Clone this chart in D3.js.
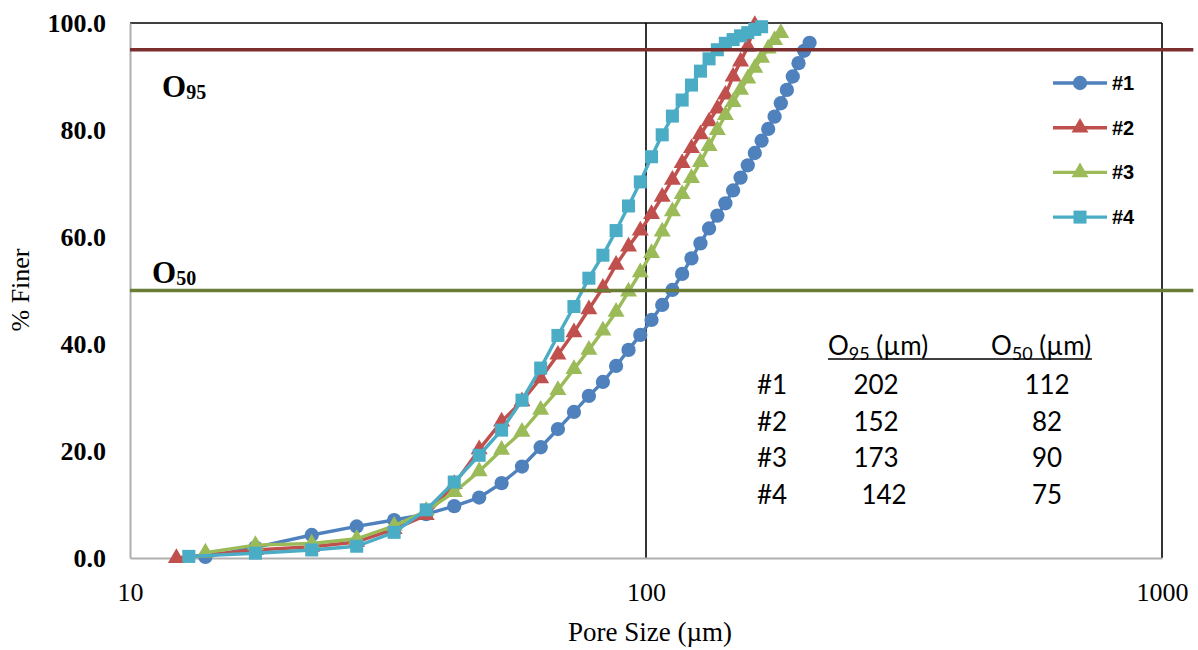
<!DOCTYPE html>
<html>
<head>
<meta charset="utf-8">
<script src="https://cdn.jsdelivr.net/npm/d3@7"></script>
<style>
  html, body { margin: 0; padding: 0; background: #fff; }
  svg { display: block; }
</style>
</head>
<body>
<svg id="chart" width="1198" height="650"></svg>
<script>
// ---------- data ----------
const seriesNames = ["#1", "#2", "#3", "#4"];
const seriesColors = ["#4f81bd", "#c0504d", "#9bbb59", "#4bacc6"];
const seriesMarkers = ["circle", "triangle", "triangle", "square"];

// shared pore-size grid (µm)
const poreSizes = [17.5, 22.5, 27.5, 32.5, 37.5, 42.5, 47.5, 52.5, 57.5, 62.5,
  67.5, 72.5, 77.5, 82.5, 87.5, 92.5, 97.5, 102.5, 107.5, 112.5,
  117.5, 122.5, 127.5, 132.5, 137.5, 142.5, 147.5, 152.5, 157.5, 162.5,
  167.5, 172.5, 177.5, 182.5, 187.5, 192.5, 197.5, 202.5, 207.5];

// first (smallest) measured pore size and % finer for each sample
const startSize = [14.0, 12.3, 14.0, 13.0];
const startFiner = [0.2, 0.0, 1.0, 0.3];

const finer1 = [2.0, 4.3, 5.9, 7.1, 8.2, 9.7, 11.3, 14.0, 17.1, 20.7,
  24.1, 27.3, 30.3, 32.9, 35.9, 38.9, 41.7, 44.5, 47.3, 50.1,
  53.1, 56.0, 58.8, 61.6, 64.0, 66.3, 68.7, 71.1, 73.4, 75.7,
  78.0, 80.2, 82.5, 85.0, 87.5, 90.0, 92.5, 94.8, 96.3];
const finer2 = [1.5, 2.1, 3.0, 5.4, 8.0, 13.8, 20.3, 25.5, 29.3, 33.6,
  38.0, 42.2, 46.5, 50.5, 54.8, 58.2, 61.2, 64.3, 67.5, 70.7,
  73.8, 76.6, 79.2, 81.6, 84.0, 86.6, 90.0, 92.8, 95.6, 99.6];
const finer3 = [2.4, 2.7, 3.6, 6.0, 8.8, 12.3, 16.2, 20.2, 23.6, 27.7,
  31.4, 35.3, 38.9, 42.5, 46.0, 49.8, 53.4, 57.0, 61.0, 64.8,
  68.0, 71.0, 74.0, 77.0, 80.0, 82.8, 85.2, 87.5, 89.6, 91.6,
  93.5, 95.2, 96.8, 98.1];
const finer4 = [0.9, 1.5, 2.2, 4.8, 9.0, 14.2, 19.2, 23.9, 29.5, 35.5,
  41.6, 47.0, 52.3, 56.6, 61.2, 65.8, 70.3, 75.0, 79.1, 82.6,
  85.6, 88.4, 91.0, 93.3, 95.0, 96.2, 96.9, 97.6, 98.2, 98.8, 99.3];
const finerAll = [finer1, finer2, finer3, finer4];

const yTicks = [0, 20, 40, 60, 80, 100];
const xTicks = [10, 100, 1000];

// reference levels
const oLevels = [95, 50];
const oLabels = ["95", "50"];
const oColors = ["#7b2f2f", "#6a7d34"];
const oLineExtent = [10, 1150];

// summary table
const tableRows = ["#1", "#2", "#3", "#4"];
const tableO95 = ["202", "152", "173", "142"];
const tableO50 = ["112", "82", "90", "75"];

// ---------- layout ----------
const svg = d3.select("#chart");
const serif = "'Liberation Serif', 'DejaVu Serif', serif";
const sans = "Lato, 'Liberation Sans', sans-serif";

const x = d3.scaleLog().domain([10, 1000]).range([130, 1162]);
const y = d3.scaleLinear().domain([0, 100]).range([558, 23]);

const series = seriesNames.map((name, i) => {
  const pts = [{ s: startSize[i], f: startFiner[i] }];
  finerAll[i].forEach((v, k) => pts.push({ s: poreSizes[k], f: v }));
  return { name, color: seriesColors[i], marker: seriesMarkers[i], pts };
});

// gridlines: vertical at 100, 1000 ; horizontal at 100
const grid = svg.append("g");
grid.selectAll("line.vx").data(xTicks.slice(1)).enter().append("line")
  .attr("x1", d => x(d)).attr("x2", d => x(d))
  .attr("y1", y(0)).attr("y2", y(100))
  .attr("stroke", "#000").attr("stroke-width", 1.6);
grid.append("line")
  .attr("x1", x(10)).attr("x2", x(1000))
  .attr("y1", y(100)).attr("y2", y(100))
  .attr("stroke", "#000").attr("stroke-width", 1.4);

// axes
const yAxis = d3.axisLeft(y).tickValues(yTicks).tickFormat(d3.format(".1f"))
  .tickSize(0).tickPadding(24);
const gy = svg.append("g").attr("transform", `translate(${x(10)},0)`).call(yAxis);
gy.select(".domain").attr("stroke", "#b0b0b0").attr("stroke-width", 2);
gy.selectAll("text").attr("font-family", serif).attr("font-size", 26)
  .attr("font-weight", "bold").attr("fill", "#000");

const xAxis = d3.axisBottom(x).tickValues(xTicks).tickFormat(d3.format("d"))
  .tickSize(0).tickSizeOuter(0).tickPadding(25);
const gx = svg.append("g").attr("transform", `translate(0,${y(0)})`).call(xAxis);
gx.select(".domain").attr("stroke", "#b0b0b0").attr("stroke-width", 2);
gx.selectAll("text").attr("font-family", serif).attr("font-size", 26).attr("fill", "#000");

// axis titles
svg.append("text").attr("x", 650).attr("y", 641).attr("text-anchor", "middle")
  .attr("font-family", serif).attr("font-size", 27).text("Pore Size (µm)");
svg.append("text").attr("transform", "translate(29,290) rotate(-90)")
  .attr("text-anchor", "middle").attr("font-family", serif).attr("font-size", 26)
  .text("% Finer");

// series
const line = d3.line().x(d => x(d.s)).y(d => y(d.f));
const symbolType = { circle: d3.symbolCircle, triangle: d3.symbolTriangle, square: d3.symbolSquare };
const symbolSize = { circle: 160, triangle: 125, square: 170 };

series.forEach(sr => {
  const g = svg.append("g");
  g.append("path").datum(sr.pts).attr("d", line)
    .attr("fill", "none").attr("stroke", sr.color).attr("stroke-width", 3.4)
    .attr("stroke-linejoin", "round");
  g.selectAll("path.m").data(sr.pts).enter().append("path")
    .attr("class", "m")
    .attr("transform", d => `translate(${x(d.s)},${y(d.f)})`)
    .attr("d", d3.symbol().type(symbolType[sr.marker]).size(symbolSize[sr.marker]))
    .attr("fill", sr.color);
});

// reference lines O95 / O50
oLevels.forEach((lv, i) => {
  svg.append("line")
    .attr("x1", x(oLineExtent[0])).attr("x2", x(oLineExtent[1]))
    .attr("y1", y(lv)).attr("y2", y(lv))
    .attr("stroke", oColors[i]).attr("stroke-width", 3.5);
});
const oLabelPos = [[162, 97], [152, 283]];
oLevels.forEach((lv, i) => {
  const t = svg.append("text").attr("x", oLabelPos[i][0]).attr("y", oLabelPos[i][1])
    .attr("font-family", serif).attr("font-weight", "bold").attr("fill", "#000");
  t.append("tspan").attr("font-size", 31).text("O");
  t.append("tspan").attr("font-size", 20).attr("dy", 2).text(oLabels[i]);
});

// legend
const legend = svg.append("g");
series.forEach((sr, i) => {
  const ly = 83 + i * 44.7;
  legend.append("line").attr("x1", 1053).attr("x2", 1107).attr("y1", ly).attr("y2", ly)
    .attr("stroke", sr.color).attr("stroke-width", 3.4);
  legend.append("path").attr("transform", `translate(1080,${ly})`)
    .attr("d", d3.symbol().type(symbolType[sr.marker]).size(symbolSize[sr.marker]))
    .attr("fill", sr.color);
  legend.append("text").attr("x", 1112).attr("y", ly + 7)
    .attr("font-family", "'Liberation Sans', Arial, sans-serif").attr("font-weight", "bold")
    .attr("font-size", 20).text(sr.name);
});

// summary table
const tbl = svg.append("g").attr("font-family", sans).attr("font-size", 26).attr("fill", "#000");
function header(xp, sub) {
  const t = tbl.append("text").attr("x", xp).attr("y", 355);
  t.append("tspan").text("O");
  t.append("tspan").attr("font-size", 18).attr("dy", 5).text(sub);
  t.append("tspan").attr("dy", -5).text(" (µm)");
}
header(828, "95");
header(991, "50");
tbl.append("line").attr("x1", 828).attr("x2", 1092).attr("y1", 359).attr("y2", 359)
  .attr("stroke", "#000").attr("stroke-width", 1.5);
tableRows.forEach((r, i) => {
  const by = 394 + i * 36.5;
  tbl.append("text").attr("x", 757).attr("y", by).text(r);
  tbl.append("text").attr("x", i === 3 ? 884 : 876).attr("y", by).attr("text-anchor", "middle").text(tableO95[i]);
  tbl.append("text").attr("x", 1047).attr("y", by).attr("text-anchor", "middle").text(tableO50[i]);
});
</script>
</body>
</html>
